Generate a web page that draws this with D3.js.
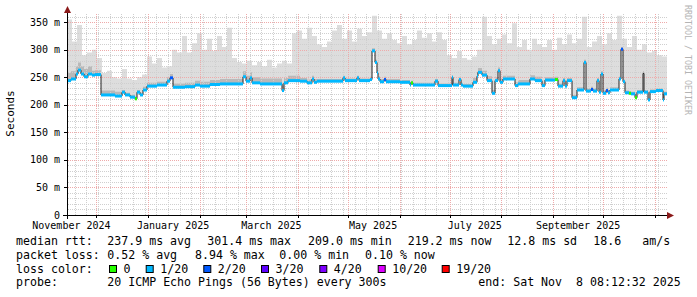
<!DOCTYPE html>
<html lang="en">
<head>
<meta charset="UTF-8">
<script src="https://d3js.org/d3.v7.min.js"></script>
<title>smokeping year</title>
<style>
  body { margin: 0; background: #fff; }
  text { font-family: "DejaVu Sans Mono", monospace; white-space: pre; }
</style>
</head>
<body>
<div id="chart"></div>
<script>
// graph covers 360 days, ending at the "end:" stamp
var endTime = Date.UTC(2025, 10, 8, 8, 12, 32);
var startTime = endTime - 360 * 864e5;

// median rtt as a step series: day offset from start, value (ms), loss class (-1 = none)
var medDay = [0, 2.4, 5.4, 6.6, 8.4, 10.2, 12.6, 15, 16.8, 20.4,
  28.8, 33, 34.8, 37.8, 40.8, 42, 43.8, 45.6, 48, 54,
  60, 61.8, 63.6, 70.8, 76.8, 79.8, 85.8, 91.8, 105.6, 107.4,
  109.8, 111, 115.8, 129, 130.2, 132.6, 139.8, 144, 147, 148.2,
  150, 165.6, 166.8, 174, 175.2, 181.8, 183, 184.8, 186, 186.6,
  187.8, 190.2, 191.4, 199.8, 205.8, 206.4, 207.6, 220.8, 222.6, 231,
  231.6, 235.2, 236.4, 237.6, 243.6, 246, 246.6, 249, 252, 255,
  256.8, 258.6, 259.8, 261.6, 268.8, 270.6, 277.8, 280.8, 285, 286.8,
  292.8, 294.6, 297.6, 298.8, 300, 303, 306, 310.2, 311.4, 314.4,
  315.6, 318, 319.2, 320.4, 321.6, 323.4, 324.6, 325.8, 331.2, 332.4,
  333.6, 334.8, 337.2, 338.4, 340.8, 342, 345.6, 346.2, 348.6, 349.8,
  353.4, 357.6, 358.2];
var medVal = [244, 247, 256, 263, 256, 251, 256, 254, 255, 218,
  216, 223, 218, 214, 211, 223, 218, 227, 234, 236,
  243, 249, 232, 233, 236, 234, 237, 238, 251, 243,
  249, 240, 238, 226, 240, 244, 243, 240, 247, 241,
  243, 249, 244, 249, 244, 246, 298, 277, 258, 247,
  242, 246, 242, 241, 236, 240, 236, 243, 235, 250,
  236, 246, 236, 234, 241, 252, 259, 254, 244, 221,
  244, 262, 241, 247, 235, 238, 247, 244, 235, 245,
  246, 234, 244, 234, 244, 213, 227, 277, 225, 228,
  225, 244, 223, 256, 221, 226, 222, 227, 247, 301,
  242, 222, 221, 220, 213, 223, 257, 223, 209, 224,
  226, 209, 220];
var medLoss = [1, 1, 1, 1, 1, 1, 1, 1, 1, 1,
  1, 1, 1, 1, 0, 1, 1, 1, 1, 1,
  1, 2, 1, 1, 1, 1, 1, 1, 1, 1,
  1, 1, 1, 1, 1, 1, 1, 1, 1, 1,
  1, 1, 1, 1, 1, 1, 1, 1, 1, 1,
  1, 2, 1, 1, 1, 0, 1, 1, 1, 1,
  1, 1, 1, 1, 1, 1, 1, 1, 1, 1,
  1, 1, 1, 1, 1, 1, 1, 1, 1, 1,
  0, 1, 1, 1, 1, 1, 1, 1, 1, 2,
  1, 1, 1, 1, 1, 2, 1, 1, 1, 2,
  1, 1, 0, 1, 0, 1, -1, 1, 1, 1,
  1, 1, 1];

// top of the smoke (slowest ping), one value per 3 days
var smokeMax = [355, 315, 345, 290, 295, 300, 285, 258, 262, 250,
  248, 265, 248, 245, 250, 255, 288, 275, 285, 268,
  270, 300, 295, 325, 295, 312, 330, 300, 320, 298,
  325, 305, 340, 285, 278, 275, 280, 272, 278, 270,
  282, 268, 275, 280, 275, 330, 335, 320, 340, 325,
  310, 305, 315, 335, 345, 320, 335, 315, 338, 325,
  332, 362, 335, 320, 330, 318, 312, 325, 310, 318,
  335, 322, 330, 315, 332, 318, 290, 285, 298, 285,
  282, 288, 300, 360, 325, 310, 320, 328, 312, 348,
  305, 318, 300, 320, 310, 305, 318, 300, 322, 310,
  328, 312, 320, 360, 305, 315, 325, 310, 330, 318,
  362, 320, 305, 325, 300, 310, 295, 298, 290, 288];

// dense smoke just above the median (ms), one value per 15 days
var darkSpread = [14, 8, 4, 6, 7, 8, 9, 10, 9, 6, 4, 4,
  5, 4, 4, 4, 8, 6, 7, 5, 5, 5, 4, 4];

var lossLabels = ["0", "1/20", "2/20", "3/20", "4/20", "10/20", "19/20"];
var lossColors = ["#26ff00", "#00b8ff", "#0059ff", "#5e00ff", "#7e00ff", "#dd00ff", "#ff0000"];

var yTicks = [0, 50, 100, 150, 200, 250, 300, 350];
var yTickLabels = ["0", "50 m", "100 m", "150 m", "200 m", "250 m", "300 m", "350 m"];
var xLabelMonths = ["2024-11", "2025-01", "2025-03", "2025-05", "2025-07", "2025-09"];
var xLabelText = ["November 2024", "January 2025", "March 2025", "May 2025", "July 2025", "September 2025"];

var rttText = ["median rtt:", "237.9 ms avg", "301.4 ms max", "209.0 ms min", "219.2 ms now", "12.8 ms sd", "18.6", "am/s"];
var lossText = ["packet loss:", "0.52 % avg", "8.94 % max", "0.00 % min", "0.10 % now"];
var probeText = ["probe:", "20 ICMP Echo Pings (56 Bytes) every 300s", "end: Sat Nov  8 08:12:32 2025"];

var W = 697, H = 297;
var svg = d3.select("#chart").append("svg").attr("width", W).attr("height", H);
svg.append("rect").attr("width", W).attr("height", H).attr("fill", "#fff");

var x = d3.scaleUtc().domain([new Date(startTime), new Date(endTime)]).range([67, 667]);
var y = d3.scaleLinear().domain([0, 365]).range([215, 14]);
var dayX = function (d) { return x(new Date(startTime + d * 864e5)); };

var med = medDay.map(function (d, i) { return { day: d, val: medVal[i], loss: medLoss[i] }; });
var medEnd = med.concat([{ day: 360, val: medVal[medVal.length - 1] }]);

var defs = svg.append("defs");

// smoke only shows above the median
defs.append("clipPath").attr("id", "abovemed")
  .append("path")
  .attr("d", d3.area().curve(d3.curveStepAfter)
    .x(function (d) { return dayX(d.day); })
    .y0(function (d) { return y(d.val); })
    .y1(0)(medEnd));

// dotted grid patterns (1px on, 1px off)
function dotPattern(id, color, horiz) {
  var p = defs.append("pattern").attr("id", id).attr("patternUnits", "userSpaceOnUse")
    .attr("width", horiz ? 2 : 1).attr("height", horiz ? 1 : 2);
  p.append("rect").attr("width", 1).attr("height", 1).attr("fill", color);
}
dotPattern("minH", "#cfcfcf", true);
dotPattern("minV", "#cfcfcf", false);
dotPattern("majH", "#eeaaaa", true);
dotPattern("majV", "#eeaaaa", false);

var smoke = smokeMax.map(function (v, i) { return { day: i * 3, v: v }; });
smoke.push({ day: 360, v: smokeMax[smokeMax.length - 1] });

svg.append("path")
  .attr("clip-path", "url(#abovemed)")
  .attr("fill", "#dddddd")
  .attr("d", d3.area().curve(d3.curveStepAfter)
    .x(function (d) { return dayX(d.day); })
    .y0(y(0))
    .y1(function (d) { return y(d.v); })(smoke));

svg.append("path")
  .attr("fill", "#b9b9b9")
  .attr("d", d3.area().curve(d3.curveStepAfter)
    .x(function (d) { return dayX(d.day); })
    .y0(function (d) { return y(d.val); })
    .y1(function (d) { return y(d.val + darkSpread[Math.min(23, Math.floor(d.day / 15))]); })(medEnd));

// grid, drawn over the smoke like rrdtool does
var grid = svg.append("g").attr("shape-rendering", "crispEdges");
d3.range(10, 365, 10).forEach(function (v) {
  grid.append("rect").attr("x", 67).attr("y", Math.round(y(v))).attr("width", 600).attr("height", 1)
    .attr("fill", v % 50 === 0 ? "url(#majH)" : "url(#minH)");
});
d3.utcMonday.range(new Date(startTime), new Date(endTime)).forEach(function (t) {
  grid.append("rect").attr("x", Math.round(x(t))).attr("y", 14).attr("width", 1).attr("height", 201)
    .attr("fill", "url(#minV)");
});
d3.utcMonth.range(new Date(startTime), new Date(endTime)).forEach(function (t) {
  grid.append("rect").attr("x", Math.round(x(t))).attr("y", 14).attr("width", 1).attr("height", 201)
    .attr("fill", "url(#majV)");
});

// median: thin dark line, then loss coloured band on each step
svg.append("path")
  .attr("fill", "none").attr("stroke", "#202020").attr("stroke-width", 1)
  .attr("d", d3.line().curve(d3.curveStepAfter)
    .x(function (d) { return dayX(d.day); })
    .y(function (d) { return y(d.val); })(medEnd));

svg.append("g").selectAll("rect")
  .data(med.filter(function (d) { return d.loss >= 0; }))
  .join("rect")
  .attr("x", function (d) { return dayX(d.day); })
  .attr("width", function (d) {
    var i = medDay.indexOf(d.day);
    var next = i + 1 < medDay.length ? medDay[i + 1] : 360;
    return dayX(next) - dayX(d.day);
  })
  .attr("y", function (d) { return y(d.val) - 1.5; })
  .attr("height", 3)
  .attr("fill", function (d) { return lossColors[d.loss]; });

// axes
var ax = svg.append("g").attr("shape-rendering", "crispEdges");
ax.append("line").attr("x1", 63).attr("x2", 668).attr("y1", 215.5).attr("y2", 215.5).attr("stroke", "#000");
ax.append("line").attr("x1", 67.5).attr("x2", 67.5).attr("y1", 219).attr("y2", 12).attr("stroke", "#000");
yTicks.forEach(function (v) {
  ax.append("line").attr("x1", 64).attr("x2", 67).attr("y1", Math.round(y(v)) + 0.5).attr("y2", Math.round(y(v)) + 0.5).attr("stroke", "#000");
});
d3.utcMonth.range(new Date(startTime), new Date(endTime)).forEach(function (t) {
  var px = Math.round(x(t)) + 0.5;
  ax.append("line").attr("x1", px).attr("x2", px).attr("y1", 215).attr("y2", 218).attr("stroke", "#000");
});
svg.append("path").attr("d", "M667,212L674,215.5L667,219Z").attr("fill", "#8b1a1a");
svg.append("path").attr("d", "M64,13L67.5,6L71,13Z").attr("fill", "#8b1a1a");

// tick labels
svg.append("g").selectAll("text").data(yTicks).join("text")
  .attr("x", 60).attr("y", function (v) { return y(v) + 3.5; })
  .attr("text-anchor", "end").attr("font-size", 10).attr("fill", "#000")
  .text(function (v, i) { return yTickLabels[i]; });

svg.append("g").selectAll("text").data(xLabelMonths).join("text")
  .attr("x", function (m) { return x(d3.utcDay.offset(d3.utcParse("%Y-%m")(m), 15)); })
  .attr("y", 228.5)
  .attr("text-anchor", "middle").attr("font-size", 10).attr("fill", "#000")
  .text(function (m, i) { return xLabelText[i]; });

svg.append("text").attr("transform", "translate(14,113.5) rotate(-90)")
  .attr("text-anchor", "middle").attr("font-size", 11).text("Seconds");

svg.append("text").attr("transform", "translate(688,60) rotate(90)")
  .attr("text-anchor", "middle").attr("dominant-baseline", "central")
  .attr("font-size", 8.3).attr("fill", "#b4b4b4").text("RRDTOOL / TOBI OETIKER");

// legend
var lg = svg.append("g").attr("font-size", 11.6).attr("fill", "#000");
var rttX = [16, 107.3, 207.3, 308, 407.7, 507.3, 593.3, 642.3];
rttText.forEach(function (s, i) { lg.append("text").attr("x", rttX[i]).attr("y", 245).text(s); });
var lossX = [16, 107.3, 195, 279.3, 365];
lossText.forEach(function (s, i) { lg.append("text").attr("x", lossX[i]).attr("y", 258.7).text(s); });
lg.append("text").attr("x", 16).attr("y", 272.5).text("loss color:");
var swX = [109, 145.7, 203.3, 261, 319.3, 377.7, 441.7];
lossLabels.forEach(function (s, i) {
  lg.append("rect").attr("x", swX[i] + 0.5).attr("y", 265.5).attr("width", 7).attr("height", 7)
    .attr("fill", lossColors[i]).attr("stroke", "#000").attr("stroke-width", 1);
  lg.append("text").attr("x", swX[i] + 14.5).attr("y", 272.5).text(s);
});
var probeX = [16, 107.3, 478.3];
probeText.forEach(function (s, i) { lg.append("text").attr("x", probeX[i]).attr("y", 286.3).text(s); });
</script>
</body>
</html>
